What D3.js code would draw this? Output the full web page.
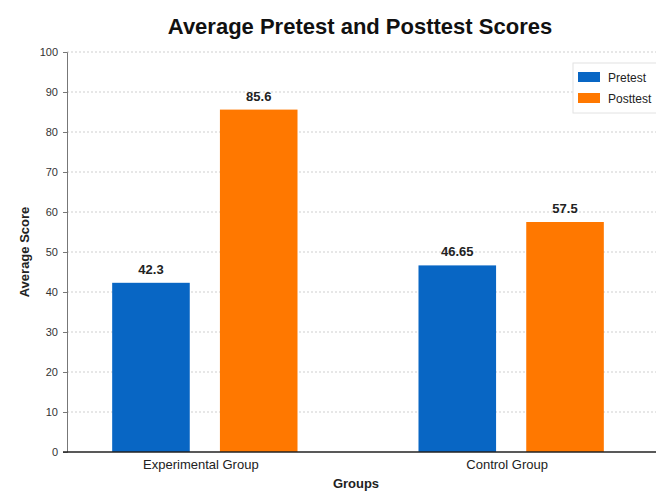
<!DOCTYPE html>
<html>
<head>
<meta charset="utf-8">
<script src="https://cdn.jsdelivr.net/npm/d3@7"></script>
<style>
  html, body { margin: 0; padding: 0; background: #fff; }
  svg { display: block; font-family: "Liberation Sans", Arial, sans-serif; }
</style>
</head>
<body>
<svg id="chart" width="656" height="492"></svg>
<script>
// Chart data
const groups = ["Experimental Group", "Control Group"];
const seriesNames = ["Pretest", "Posttest"];
const pretest = [42.3, 46.65];
const posttest = [85.6, 57.5];
const seriesColors = ["#0866c4", "#ff7800"];
const yTicks = [0, 10, 20, 30, 40, 50, 60, 70, 80, 90, 100];

const rows = groups.map((g, i) => ({ group: g, values: [pretest[i], posttest[i]] }));

const svg = d3.select("#chart");
const W = 656, H = 492;
const margin = { left: 67, right: 7, top: 52, bottom: 40 };
const plotBottom = H - margin.bottom;

const y = d3.scaleLinear().domain([0, 100]).range([plotBottom, margin.top]);

const x0 = d3.scaleBand()
  .domain(groups)
  .range([margin.left, W - margin.right])
  .paddingInner(0.3)
  .paddingOuter(0.1);

const x1 = d3.scaleBand()
  .domain(seriesNames)
  .range([0, x0.bandwidth()])
  .paddingInner(0.28)
  .paddingOuter(0.135);

// Grid lines
svg.append("g")
  .selectAll("line")
  .data(yTicks.filter(t => t > 0))
  .join("line")
  .attr("x1", margin.left)
  .attr("x2", W)
  .attr("y1", d => y(d))
  .attr("y2", d => y(d))
  .attr("stroke", "#cfcfcf")
  .attr("stroke-width", 1)
  .attr("stroke-dasharray", "2,2");

// Y axis
const yAxis = svg.append("g")
  .attr("transform", `translate(${margin.left},0)`)
  .call(d3.axisLeft(y).tickValues(yTicks).tickSize(4).tickPadding(5));
yAxis.select(".domain").attr("stroke", "#777");
yAxis.selectAll(".tick line").attr("stroke", "#777");
yAxis.selectAll(".tick text")
  .attr("fill", "#333")
  .style("font-size", "11px");

// Bars
const barGroups = svg.append("g")
  .selectAll("g")
  .data(rows)
  .join("g")
  .attr("transform", d => `translate(${x0(d.group)},0)`);

barGroups.selectAll("rect")
  .data(d => d.values.map((v, i) => ({ key: seriesNames[i], value: v, idx: i })))
  .join("rect")
  .attr("x", d => x1(d.key))
  .attr("width", x1.bandwidth())
  .attr("y", d => y(d.value))
  .attr("height", d => plotBottom - y(d.value))
  .attr("fill", d => seriesColors[d.idx]);

barGroups.selectAll("text.val")
  .data(d => d.values.map((v, i) => ({ key: seriesNames[i], value: v })))
  .join("text")
  .attr("class", "val")
  .attr("x", d => x1(d.key) + x1.bandwidth() / 2)
  .attr("y", d => y(d.value) - 9)
  .attr("text-anchor", "middle")
  .attr("fill", "#222")
  .style("font-size", "13px")
  .style("font-weight", "bold")
  .text(d => d.value);

// X axis
const xAxis = svg.append("g")
  .attr("transform", `translate(0,${plotBottom})`)
  .call(d3.axisBottom(x0).tickSize(0).tickPadding(8));
xAxis.select(".domain").remove();
xAxis.selectAll(".tick text")
  .attr("dx", -4)
  .attr("fill", "#222")
  .style("font-size", "13px");

svg.append("line")
  .attr("x1", margin.left - 4)
  .attr("x2", W)
  .attr("y1", plotBottom)
  .attr("y2", plotBottom)
  .attr("stroke", "#222")
  .attr("stroke-width", 1.5);

// Axis titles
svg.append("text")
  .attr("x", 356)
  .attr("y", 488)
  .attr("text-anchor", "middle")
  .attr("fill", "#222")
  .style("font-size", "13px")
  .style("font-weight", "bold")
  .text("Groups");

svg.append("text")
  .attr("transform", "translate(29,252) rotate(-90)")
  .attr("text-anchor", "middle")
  .attr("fill", "#222")
  .style("font-size", "13px")
  .style("font-weight", "bold")
  .text("Average Score");

// Title
svg.append("text")
  .attr("x", 360)
  .attr("y", 34)
  .attr("text-anchor", "middle")
  .attr("fill", "#111")
  .style("font-size", "22px")
  .style("font-weight", "bold")
  .text("Average Pretest and Posttest Scores");

// Legend
const legend = svg.append("g").attr("transform", "translate(573,63)");
legend.append("rect")
  .attr("width", 86)
  .attr("height", 50)
  .attr("fill", "#fff")
  .attr("stroke", "#e2e2e2");
const items = legend.selectAll("g.item")
  .data(seriesNames)
  .join("g")
  .attr("class", "item")
  .attr("transform", (d, i) => `translate(5,${9 + i * 21})`);
items.append("rect")
  .attr("width", 22)
  .attr("height", 10)
  .attr("fill", (d, i) => seriesColors[i]);
items.append("text")
  .attr("x", 30)
  .attr("y", 9.5)
  .attr("fill", "#222")
  .style("font-size", "12px")
  .text(d => d);
</script>
</body>
</html>
